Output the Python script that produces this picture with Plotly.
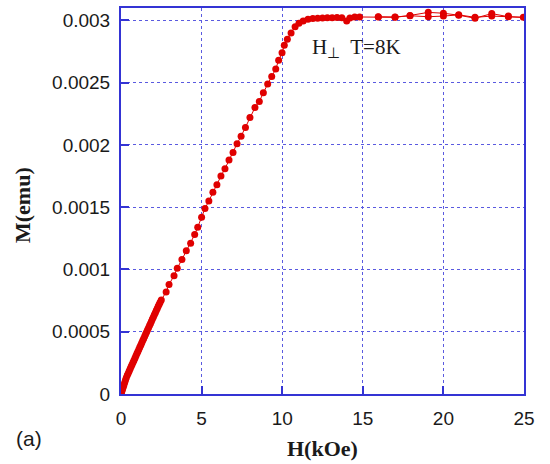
import plotly.graph_objects as go

# H (kOe) and M (emu)
h_up = [0, 0.03, 0.06, 0.1, 0.14, 0.18, 0.23, 0.28, 0.33, 0.39, 0.45, 0.51, 0.57, 0.63, 0.69,
        0.75, 0.81, 0.87, 0.93, 0.99, 1.05, 1.11, 1.17, 1.23, 1.29, 1.35, 1.41, 1.47, 1.53, 1.59,
        1.65, 1.71, 1.77, 1.83, 1.89, 1.95, 2.01, 2.07, 2.13, 2.19, 2.25, 2.31, 2.37, 2.43, 2.5,
        2.8, 2.98, 3.29, 3.49, 3.78, 4.05, 4.32, 4.57, 4.76, 5.0, 5.21, 5.45, 5.7, 5.95, 6.2,
        6.45, 6.7, 6.95, 7.2, 7.45, 7.72, 8.0, 8.31, 8.58, 8.83, 9.1, 9.35, 9.6, 9.78, 9.99,
        10.13, 10.32, 10.55, 10.8, 11.04, 11.3, 11.6, 11.9, 12.2, 12.5, 12.8, 13.1, 13.4, 13.7,
        14.0, 14.2, 14.5, 14.8, 15.96, 17.0, 17.93, 19.06, 20.0, 20.95, 21.96, 23.0, 24.03, 24.96]
m_up = [0, 0.000012, 0.000024, 0.00004, 0.000056, 0.000072, 0.000092, 0.000112, 0.00013,
        0.00015, 0.000167, 0.000185, 0.000202, 0.00022, 0.000237, 0.000255, 0.000272, 0.00029,
        0.000307, 0.000325, 0.000342, 0.00036, 0.000377, 0.000394, 0.000412, 0.000429, 0.000446,
        0.000464, 0.000481, 0.000498, 0.000516, 0.000533, 0.00055, 0.000567, 0.000585, 0.000602,
        0.000619, 0.000636, 0.000653, 0.00067, 0.000687, 0.000704, 0.000721, 0.000737, 0.000755,
        0.00082, 0.00088, 0.00095, 0.00101, 0.00108, 0.00115, 0.00121, 0.00128, 0.00134, 0.00142,
        0.00149, 0.00155, 0.00162, 0.00168, 0.00175, 0.00181, 0.00188, 0.00194, 0.00201, 0.00207,
        0.00214, 0.00222, 0.0023, 0.00235, 0.00242, 0.00249, 0.00255, 0.00261, 0.00268, 0.00274,
        0.0028, 0.00285, 0.0029, 0.00295, 0.002978, 0.002995, 0.00301, 0.003015, 0.003018,
        0.00302, 0.003022, 0.003022, 0.003024, 0.003022, 0.002995, 0.00302, 0.003028, 0.003028,
        0.003028, 0.003025, 0.00304, 0.003065, 0.003058, 0.003042, 0.003018, 0.003055, 0.00303,
        0.003025]
h_down = [24.03, 23.0, 21.96, 20.95, 20.0, 19.06, 17.93, 17.0, 15.96]
m_down = [0.003035, 0.003035, 0.003025, 0.003045, 0.003035, 0.00303, 0.003038, 0.003028, 0.00303]

x_ticks = [0, 5, 10, 15, 20, 25]
y_ticks = [0, 0.0005, 0.001, 0.0015, 0.002, 0.0025, 0.003]
y_tick_text = ["0", "0.0005", "0.001", "0.0015", "0.002", "0.0025", "0.003"]

h_all = h_up + h_down
m_all = m_up + m_down

RED = "#e00000"
BLUE = "#3434d4"
GRID = "#5a5ae0"

fig = go.Figure()
fig.add_trace(go.Scatter(
    x=h_all, y=m_all, mode="lines+markers",
    line=dict(color=RED, width=1),
    marker=dict(color=RED, size=7),
    showlegend=False, hoverinfo="skip"))

axis_common = dict(
    showline=True, mirror=True, linecolor=BLUE, linewidth=2,
    showgrid=True, gridcolor=GRID, gridwidth=1, griddash="dot",
    ticks="inside", ticklen=8, tickcolor=BLUE, tickwidth=2,
    zeroline=False,
    tickfont=dict(family="Liberation Sans, Arial", size=19, color="#1a1a1a"),
)

fig.update_xaxes(range=[0, 25], tickvals=x_ticks, ticklabelstandoff=6, **axis_common)
fig.update_yaxes(range=[0, 0.0031], tickvals=y_ticks, ticktext=y_tick_text,
                 ticklabelstandoff=5, **axis_common)

fig.update_layout(
    width=550, height=464,
    margin=dict(l=121, r=26, t=6, b=70),
    paper_bgcolor="white", plot_bgcolor="white",
    annotations=[
        dict(text="<b>H(kOe)</b>", xref="paper", yref="paper", x=0.5, y=0,
             xanchor="center", yanchor="middle", yshift=-54, showarrow=False,
             font=dict(family="Liberation Serif, Times New Roman", size=22, color="#1a1a1a")),
        dict(text="<b>M(emu)</b>", xref="paper", yref="paper", x=0, y=0.5,
             xanchor="center", yanchor="middle", xshift=-99, yshift=-4, textangle=-90,
             showarrow=False,
             font=dict(family="Liberation Serif, Times New Roman", size=22, color="#1a1a1a")),
        dict(text="H<sub>\u22a5</sub>  T=8K", x=11.7, y=0.00278, xref="x", yref="y",
             xanchor="left", yanchor="middle", showarrow=False,
             font=dict(family="Liberation Serif, Times New Roman", size=21, color="#1a1a1a")),
        dict(text="(a)", xref="paper", yref="paper", x=0, y=0,
             xanchor="left", yanchor="middle", xshift=-107, yshift=-44, showarrow=False,
             font=dict(family="Liberation Sans, Arial", size=21, color="#1a1a1a")),
    ],
)

fig.write_html("out.html")
